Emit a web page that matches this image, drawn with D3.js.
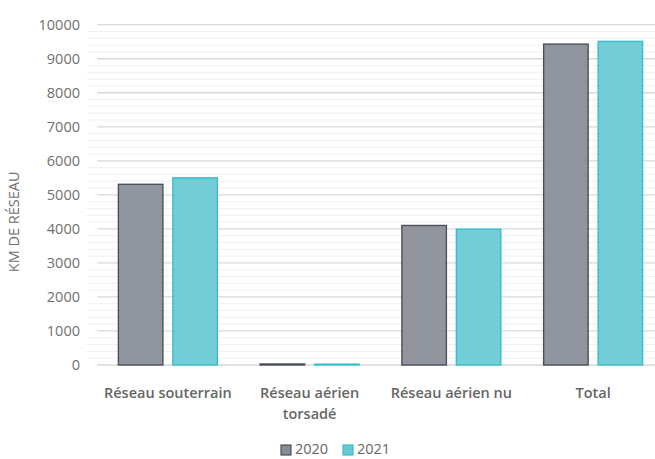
<!DOCTYPE html>
<meta charset="utf-8">
<head>
<style>
  body { margin: 0; background: #fff; }
  svg { font-family: "Open Sans", "Noto Sans", sans-serif; }
</style>
</head>
<body>
<div id="chart"></div>
<script src="https://cdn.jsdelivr.net/npm/d3@7"></script>
<script>
  // data
  const categories = [["Réseau souterrain"], ["Réseau aérien", "torsadé"], ["Réseau aérien nu"], ["Total"]];
  const years = ["2020", "2021"];
  const val2020 = [5310, 30, 4100, 9430];
  const val2021 = [5500, 25, 3990, 9510];
  const yTicks = [0, 1000, 2000, 3000, 4000, 5000, 6000, 7000, 8000, 9000, 10000];

  const fills = ["#888c95", "#66c9d4"];
  const strokes = ["#4b5059", "#3cbdcc"];

  const W = 655, H = 459;
  const margin = {top: 24.7, right: -9, bottom: 94, left: 97};
  const width = W - margin.left - margin.right,
        height = H - margin.top - margin.bottom;

  const svg = d3.select("#chart").append("svg")
      .attr("width", W).attr("height", H)
    .append("g")
      .attr("transform", `translate(${margin.left},${margin.top})`);

  const x = d3.scaleBand().domain(d3.range(categories.length)).range([0, width]).paddingInner(0.3016).paddingOuter(0.1508);
  const x1 = d3.scaleBand().domain(years).range([0, x.bandwidth()]).paddingInner(0.183);
  const y = d3.scaleLinear().domain([0, 10000]).range([height, 0]);

  // minor gridlines every 200
  svg.append("g").selectAll("line")
    .data(d3.range(200, 10001, 200).filter(v => v % 1000 !== 0))
    .join("line")
      .attr("x1", -10).attr("x2", width + 10)
      .attr("y1", d => y(d)).attr("y2", d => y(d))
      .attr("stroke", "#f0f0f0").attr("stroke-width", 1);

  // major gridlines
  svg.append("g").selectAll("line")
    .data(yTicks)
    .join("line")
      .attr("x1", 0).attr("x2", width + 10)
      .attr("y1", d => y(d)).attr("y2", d => y(d))
      .attr("stroke", "#d9d9d9").attr("stroke-width", 1.3);

  // y axis labels
  const yAxis = svg.append("g")
    .call(d3.axisLeft(y).tickValues(yTicks).tickSize(0).tickPadding(17).tickFormat(d3.format("d")));
  yAxis.select(".domain").remove();
  yAxis.selectAll("text").attr("font-size", 14.5).attr("fill", "#6f6f6f")
    .attr("font-family", "\"Open Sans\", sans-serif");

  const series = [val2020, val2021];
  years.forEach((yr, s) => {
    svg.append("g").selectAll("rect")
      .data(series[s])
      .join("rect")
        .attr("x", (d, i) => x(i) + x1(yr))
        .attr("y", d => y(d))
        .attr("width", x1.bandwidth())
        .attr("height", d => height - y(d))
        .attr("fill", fills[s])
        .attr("fill-opacity", 0.92)
        .attr("stroke", strokes[s])
        .attr("stroke-width", 1.4);
  });

  // x axis labels
  const xl = svg.append("g").selectAll("text")
    .data(categories)
    .join("text")
      .attr("x", (d, i) => x(i) + x.bandwidth() / 2)
      .attr("y", height + 33)
      .attr("text-anchor", "middle")
      .attr("font-size", 14.5)
      .attr("font-weight", 600)
      .attr("fill", "#666");
  xl.selectAll("tspan")
    .data(d => d)
    .join("tspan")
      .attr("x", function() { return this.parentNode.getAttribute("x"); })
      .attr("dy", (d, i) => i === 0 ? 0 : 21)
      .text(d => d);

  // y axis title
  svg.append("text")
    .attr("transform", `translate(${-78},${y(5000) + 27}) rotate(-90)`)
    .attr("text-anchor", "middle")
    .attr("font-size", 14.5)
    .attr("fill", "#6f6f6f")
    .text("KM DE RÉSEAU");

  // legend, kept just inside the bottom edge
  const leg = svg.append("g").attr("transform", `translate(${281 - margin.left},${454 - margin.top})`);
  years.forEach((yr, s) => {
    const g = leg.append("g").attr("transform", `translate(${s * 62},0)`);
    g.append("rect").attr("x", 0).attr("y", -9).attr("width", 10).attr("height", 10)
      .attr("fill", fills[s]).attr("stroke", strokes[s]).attr("stroke-width", 1.2);
    g.append("text").attr("x", 14).attr("y", 0).attr("font-size", 14.5).attr("fill", "#666").text(yr);
  });
</script>
</body>
